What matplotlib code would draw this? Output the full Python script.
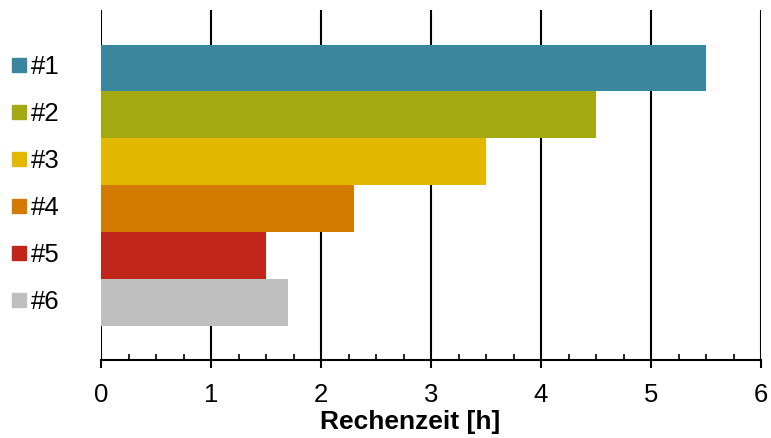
import matplotlib
matplotlib.use("Agg")
import matplotlib.pyplot as plt
import matplotlib.transforms as mtransforms
from matplotlib.ticker import MultipleLocator
import numpy as np

plt.rcParams['font.family'] = ['Liberation Sans', 'DejaVu Sans']

categories = ["#1", "#2", "#3", "#4", "#5", "#6"]
values = [5.5, 4.5, 3.5, 2.3, 1.5, 1.7]
colors = ["#3A869E", "#A3AA11", "#E2B800", "#D47A00", "#C1261A", "#BFBFBF"]
xticks = [0, 1, 2, 3, 4, 5, 6]
xlabel = "Rechenzeit [h]"

fig = plt.figure(figsize=(7.71, 4.39), dpi=100)
ax = fig.add_axes([101/771, 1 - 361/439, 660/771, 350/439])

pos = np.arange(len(categories))
ax.barh(pos, values, height=1.0, color=colors, zorder=3)

ax.set_xlim(0, 6)
ax.set_ylim(6.226, -1.237)
ax.set_xticks(xticks)
ax.set_xticklabels([str(t) for t in xticks], fontsize=18.5)
ax.xaxis.set_minor_locator(MultipleLocator(0.25))
ax.tick_params(axis='x', which='major', direction='out', length=6, width=1.5, color='black', pad=10)
ax.tick_params(axis='x', which='minor', direction='in', length=4.5, width=1.2, color='black')
ax.set_yticks([])
ax.grid(axis='x', which='major', color='black', linewidth=1.5, zorder=1)
ax.set_axisbelow(True)
for s in ['top', 'right', 'left']:
    ax.spines[s].set_visible(False)
ax.spines['bottom'].set_linewidth(1.5)
ax.spines['bottom'].set_zorder(4)
ax.set_xlabel(xlabel, fontsize=19, fontweight='bold', labelpad=0)
ax.xaxis.set_label_coords(410/771, (439 - 422)/439, transform=fig.transFigure)
ax.xaxis.label.set_verticalalignment('center')

# legend aligned with bars
trans = mtransforms.blended_transform_factory(fig.transFigure, ax.transData)
for i, (cat, c) in enumerate(zip(categories, colors)):
    ax.plot([19/771], [i - 0.06], marker='s', markersize=10.5, color=c,
            transform=trans, clip_on=False, linestyle='none')
    ax.text(30.5/771, i - 0.04, cat, transform=trans, fontsize=18.5,
            va='center', ha='left', clip_on=False)

fig.savefig("out.png", dpi=100)
